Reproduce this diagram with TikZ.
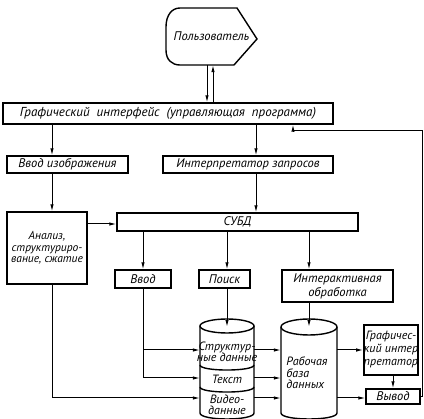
\documentclass[tikz,border=0pt]{standalone}
\usepackage{fontspec}
\setmainfont{PT Sans}
\usetikzlibrary{arrows.meta}
\begin{document}
\begin{tikzpicture}
    \tikzset{x=1pt, y=-1pt, >={Latex[length=7pt,width=3.5pt]}}
    \tikzstyle{blk}=[rectangle, draw, line width=1.4pt, inner sep=0pt, font=\fontsize{12.5}{13}\selectfont\itshape]
    \tikzstyle{txt}=[inner sep=0pt, align=center, font=\fontsize{12}{11.5}\selectfont\itshape]
    \tikzstyle{link}=[->, line width=1pt]

    \useasboundingbox (0,0) rectangle (424,419);

    % user
    \draw (211.5, 36.5) node[txt, minimum width=91pt, minimum height=57pt, font=\fontsize{12.5}{13}\selectfont\itshape] (user) {Пользователь};
    \draw[line width=1.4pt] (166,27) .. controls (166,15) and (172,8) .. (180,8) -- (237,8) -- (257,39)
        -- (234,65) -- (180,65) .. controls (172,65) and (166,60) .. (166,50) -- cycle;

    % blocks
    \draw (168, 113.5)  node[blk, minimum width=330pt, minimum height=21pt,
                             font=\fontsize{13}{14}\selectfont\itshape]     (gui)  {Графический\ \ интерфейс\ \ (управляющая\ \ программа)};
    \draw (67.5, 164.5) node[blk, minimum width=121pt, minimum height=17pt] (img)  {Ввод изображения};
    \draw (248, 164.5)  node[blk, minimum width=170pt, minimum height=17pt] (qry)  {Интерпретатор запросов};
    \draw (47, 248)     node[blk, minimum width=80pt, minimum height=72pt, align=center,
                             font=\fontsize{11.5}{11.5}\selectfont\itshape] (anl)  {Анализ,\\структуриро-\\вание, сжатие};
    \draw (237.5, 222)  node[blk, minimum width=241pt, minimum height=18pt] (dbms) {СУБД};
    \draw (143, 279)    node[blk, minimum width=56pt, minimum height=18pt]  (inp)  {Ввод};
    \draw (224.5, 279)  node[blk, minimum width=51pt, minimum height=18pt]  (srch) {Поиск};
    \draw (337.5, 286)  node[blk, minimum width=111pt, minimum height=32pt, align=center,
                             font=\fontsize{12.5}{14}\selectfont\itshape]   (intr) {Интерактивная\\обработка};
    \draw (391, 350)    node[blk, minimum width=52pt, minimum height=50pt, align=center,
                             font=\fontsize{12}{13}\selectfont\itshape]     (gint) {Графичес-\\кий интер\\претатор};
    \draw (393, 396.5)  node[blk, minimum width=54pt, minimum height=15pt]  (out)  {Вывод};

    % databases
    \draw (227, 370)    node[minimum width=54pt, minimum height=86pt, inner sep=0pt] (db1) {};
    \draw (309, 370)    node[minimum width=56pt, minimum height=86pt, inner sep=0pt] (db2) {};
    \draw[line width=1.4pt] (200,326) -- (200,413) .. controls (200,421) and (254,421) .. (254,413) -- (254,326);
    \draw[line width=1.4pt] (227,326) ellipse [x radius=27pt, y radius=7pt];
    \draw[line width=1.4pt] (200,365) .. controls (200,371.7) and (254,371.7) .. (254,365);
    \draw[line width=1.4pt] (200,387) .. controls (200,393.7) and (254,393.7) .. (254,387);
    \draw[line width=1.4pt] (281,327) -- (281,413) .. controls (281,421) and (337,421) .. (337,413) -- (337,327);
    \draw[line width=1.4pt] (309,327) ellipse [x radius=28pt, y radius=8pt];

    \draw (227, 352)    node[txt] (str) {Структур-\\ные данные};
    \draw (227, 379)    node[txt] (tx)  {Текст};
    \draw (227, 405)    node[txt] (vid) {Видео-\\данные};
    \draw (307, 373)    node[txt, align=left] (wdb) {Рабочая\\база\\данных};

    % rows and columns
    \coordinate (c1) at (52, 0);
    \coordinate (c2) at (256, 0);
    \coordinate (r0) at (0, 224);
    \coordinate (r1) at (0, 350);
    \coordinate (r2) at (0, 378);
    \coordinate (r3) at (0, 398);
    \coordinate (ud) at ([xshift=-4.5pt]user.south);
    \coordinate (uu) at ([xshift=1.5pt]user.south);
    \coordinate (rc) at (422, 131);
    \coordinate (fb) at (293, 131);

    % connectors
    \draw[link] (ud) -- (ud |- gui.north);
    \draw[link] (uu |- gui.north) -- (uu);
    \draw[link] (gui.south -| c1) -- (img.north -| c1);
    \draw[link] (gui.south -| c2) -- (qry.north -| c2);
    \draw[link] (img.south -| c1) -- (anl.north -| c1);
    \draw[link] (qry.south -| c2) -- (dbms.north -| c2);
    \draw[link] (anl.east |- r0) -- (dbms.west |- r0);
    \draw[link] (dbms.south -| inp.north) -- (inp.north);
    \draw[link] (dbms.south -| db1.north) -- (srch.north -| db1.north);
    \draw[link] (dbms.south -| db2.north) -- (intr.north -| db2.north);
    \draw[link] (srch.south -| db1.north) -- (db1.north);
    \draw[link] (intr.south -| db2.north) -- (db2.north);
    \draw[link] (inp.south) |- (db1.west |- r2);
    \draw[link] (inp.south |- r1) -- (db1.west |- r1);
    \draw[link] (anl.south -| c1) |- (db1.west |- r3);
    \foreach \r in {r1, r2, r3}
        \draw[link] (db1.east |- \r) -- (db2.west |- \r);
    \draw[link] (db2.east |- r1) -- (gint.west |- r1);
    \draw[link] (db2.east |- r3) -- (out.west |- r3);
    \draw[link] (gint.south -| out.north) -- (out.north);
    \draw[link] (out.east) -| (rc) -- (fb) -- (fb |- gui.south);
\end{tikzpicture}
\end{document}
